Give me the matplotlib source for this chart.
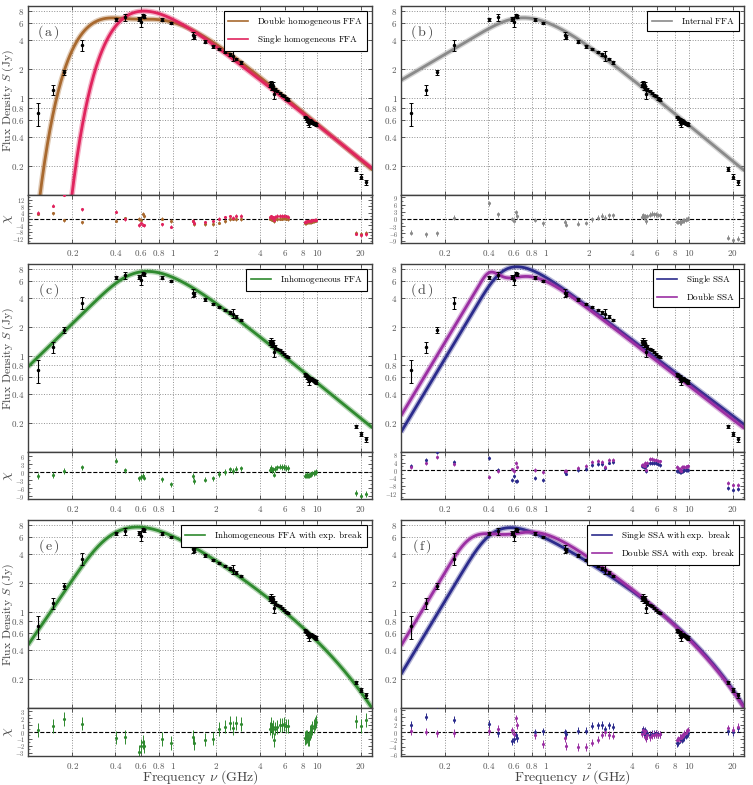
import numpy as np
import matplotlib
matplotlib.use('Agg')
import matplotlib.pyplot as plt
from matplotlib.ticker import FixedLocator, FixedFormatter, NullLocator, AutoMinorLocator

plt.rcParams['mathtext.fontset'] = 'cm'
plt.rcParams['font.family'] = 'serif'
plt.rcParams['font.serif'] = ['DejaVu Serif']

# ---------------- data ----------------
freq = [0.117, 0.148, 0.177, 0.233, 0.403, 0.465, 0.585, 0.600, 0.620, 0.632,
        0.843, 0.964, 1.37, 1.40, 1.68, 1.90, 2.10, 2.30, 2.48, 2.60, 2.75, 2.95,
        4.70, 4.80, 4.85, 4.90, 4.95, 5.00, 5.10, 5.30, 5.50, 5.70, 5.90, 6.10, 6.25,
        8.20, 8.40, 8.55, 8.65, 8.75, 8.90, 9.05, 9.25, 9.45, 9.65, 9.85,
        18.5, 20.0, 21.9]
flux = [0.71, 1.23, 1.85, 3.55, 6.55, 6.90, 6.60, 6.15, 7.25, 7.00,
        6.50, 6.00, 4.50, 4.35, 3.85, 3.45, 3.25, 3.00, 2.85, 2.75, 2.55, 2.35,
        1.38, 1.42, 1.32, 1.28, 1.35, 1.10, 1.24, 1.18, 1.14, 1.09, 1.05, 1.00, 0.97,
        0.64, 0.62, 0.60, 0.57, 0.55, 0.585, 0.575, 0.565, 0.555, 0.545, 0.535,
        0.185, 0.155, 0.136]
err = [0.19, 0.15, 0.12, 0.50, 0.20, 0.55, 0.35, 0.70, 0.20, 0.25,
       0.25, 0.15, 0.40, 0.20, 0.12, 0.10, 0.08, 0.08, 0.10, 0.30, 0.08, 0.07,
       0.08, 0.10, 0.10, 0.05, 0.12, 0.12, 0.05, 0.03, 0.03, 0.03, 0.03, 0.03, 0.03,
       0.02, 0.02, 0.03, 0.04, 0.05, 0.02, 0.02, 0.02, 0.02, 0.02, 0.02,
       0.008, 0.008, 0.008]

xticks = [0.2, 0.4, 0.6, 0.8, 1, 2, 4, 6, 8, 10, 20]
xticklabels = ['0.2', '0.4', '0.6', '0.8', '1', '2', '4', '6', '8', '10', '20']
yticks = [0.2, 0.4, 0.6, 0.8, 1, 2, 4, 6, 8]
yticklabels = ['0.2', '0.4', '0.6', '0.8', '1', '2', '4', '6', '8']

# model parameters (fits shown in each panel)
p_ffa_single = dict(a=8.11, alpha=-1.182, tau=0.2135)
p_ffa_double = dict(a1=3.49, a2=6.1, alpha=-1.245, tau1=0.0721, tau2=0.76)
p_ffa_internal = dict(a=8.7, alpha=-1.22, tau=0.74)
p_ffa_inhom = dict(a=8.7, p=0.276, tau=0.53, alpha=-1.22)
p_ffa_inhom_br = dict(a=7.5, p=0.5, tau=0.26, alpha=-0.94, nubr=18.0)
p_ssa_single = dict(a=13.1, nup=0.575, alpha=-1.13)
p_ssa_double = dict(a1=7.0, nup1=0.44, alpha1=-6.0, a2=10.0, nup2=0.72, alpha2=-1.15)
p_ssa_single_br = dict(a=11.7, nup=0.48, alpha=-0.8, nubr=15.0)
p_ssa_double_br = dict(a1=9.0, nup1=0.34, alpha1=-1.5, a2=7.6, nup2=0.85, alpha2=-0.877, nubr=16.8)

colors = dict(brown='#a8692f', crimson='#e0245e', gray='#8a8a8a', green='#2f8a2f',
              navy='#2b2b8c', purple='#9b2fa3')


# ---------------- models ----------------
def ffa_hom(nu, a, alpha, tau):
    return a * nu ** alpha * np.exp(-tau * nu ** -2.1)


def ffa_double(nu, a1, a2, alpha, tau1, tau2):
    return nu ** alpha * (a1 * np.exp(-tau1 * nu ** -2.1) + a2 * np.exp(-tau2 * nu ** -2.1))


def ffa_internal(nu, a, alpha, tau):
    x = tau * nu ** -2.1
    return a * nu ** alpha * (-np.expm1(-x)) / x


def lower_gamma(s, x):
    x = np.atleast_1d(np.asarray(x, dtype=float))
    grid = np.linspace(0.0, 1.0, 4001)
    t = x[:, None] * grid[None, :]
    integrand = t ** (s - 1) * np.exp(-t)
    return np.trapezoid(integrand, t, axis=1)


def ffa_inhom(nu, a, p, tau, alpha, nubr=None):
    nu = np.atleast_1d(np.asarray(nu, dtype=float))
    s = p + 1
    x = tau * nu ** -2.1
    f = s * lower_gamma(s, x) * x ** -s
    out = a * nu ** alpha * f
    if nubr is not None:
        out = out * np.exp(-nu / nubr)
    return out


def ssa(nu, a, nup, alpha, nubr=None):
    beta = 1 - 2 * alpha
    k = (beta + 4) / 2
    u = nu / nup
    t = u ** -k
    out = a * u ** alpha * (-np.expm1(-t)) / t
    if nubr is not None:
        out = out * np.exp(-nu / nubr)
    return out


def ssa_double(nu, a1, nup1, alpha1, a2, nup2, alpha2, nubr=None):
    out = ssa(nu, a1, nup1, alpha1) + ssa(nu, a2, nup2, alpha2)
    if nubr is not None:
        out = out * np.exp(-nu / nubr)
    return out


models = {
    'a': [(lambda n: ffa_double(n, **p_ffa_double), colors['brown'], r'$\mathrm{Double\ homogeneous\ FFA}$'),
          (lambda n: ffa_hom(n, **p_ffa_single), colors['crimson'], r'$\mathrm{Single\ homogeneous\ FFA}$')],
    'b': [(lambda n: ffa_internal(n, **p_ffa_internal), colors['gray'], r'$\mathrm{Internal\ FFA}$')],
    'c': [(lambda n: ffa_inhom(n, **p_ffa_inhom), colors['green'], r'$\mathrm{Inhomogeneous\ FFA}$')],
    'd': [(lambda n: ssa(n, **p_ssa_single), colors['navy'], r'$\mathrm{Single\ SSA}$'),
          (lambda n: ssa_double(n, **p_ssa_double), colors['purple'], r'$\mathrm{Double\ SSA}$')],
    'e': [(lambda n: ffa_inhom(n, **p_ffa_inhom_br), colors['green'],
           r'$\mathrm{Inhomogeneous\ FFA\ with\ exp.\ break}$')],
    'f': [(lambda n: ssa(n, **p_ssa_single_br), colors['navy'], r'$\mathrm{Single\ SSA\ with\ exp.\ break}$'),
          (lambda n: ssa_double(n, **p_ssa_double_br), colors['purple'],
           r'$\mathrm{Double\ SSA\ with\ exp.\ break}$')],
}

res_setup = {
    'a': ((-15, 15), [-12, -8, -4, 0, 4, 8, 12]),
    'b': ((-10, 10), [-9, -6, -3, 0, 3, 6, 9]),
    'c': ((-10, 7.5), [-9, -6, -3, 0, 3, 6]),
    'd': ((-15, 9.5), [-12, -8, -4, 0, 4, 8]),
    'e': ((-3.5, 3.5), [-3, -2, -1, 0, 1, 2, 3]),
    'f': ((-6.5, 6.5), [-6, -4, -2, 0, 2, 4, 6]),
}

# ---------------- figure ----------------
W, H = 753, 785
fig = plt.figure(figsize=(W / 100, H / 100), dpi=100)

cols = [(28, 372), (401, 744)]
rows = [(6, 195, 243), (264, 452, 499), (520, 708, 756)]
letters = [['a', 'b'], ['c', 'd'], ['e', 'f']]

nu_grid = np.logspace(np.log10(0.099), np.log10(24.0), 500)
fr = np.array(freq)
fl = np.array(flux)
er = np.array(err)

spine_col = '#404040'
text_col = '#444444'


def style(ax):
    for sp in ax.spines.values():
        sp.set_linewidth(1.0)
        sp.set_color(spine_col)
    ax.tick_params(which='both', direction='in', top=True, right=True,
                   labelsize=6.5, colors=spine_col, labelcolor='#555555')
    ax.tick_params(which='major', length=3, width=0.6)
    ax.tick_params(which='minor', length=1.5, width=0.5)


for r, (top, mid, bot) in enumerate(rows):
    for c, (x0, x1) in enumerate(cols):
        L = letters[r][c]
        axm = fig.add_axes([x0 / W, 1 - mid / H, (x1 - x0) / W, (mid - top) / H])
        axr = fig.add_axes([x0 / W, 1 - bot / H, (x1 - x0) / W, (bot - mid) / H], sharex=axm)
        for ax in (axm, axr):
            ax.set_xscale('log')
            ax.set_xlim(0.099, 24.0)
            style(ax)
            ax.xaxis.set_major_locator(FixedLocator(xticks))
            ax.xaxis.set_major_formatter(FixedFormatter(['$' + t + '$' for t in xticklabels]))
            ax.xaxis.set_minor_locator(NullLocator())
            ax.grid(True, axis='x', which='major', ls=':', color='#909090', lw=0.7)
        axm.set_yscale('log')
        axm.set_ylim(0.1, 9.0)
        axm.yaxis.set_major_locator(FixedLocator(yticks))
        axm.yaxis.set_major_formatter(FixedFormatter(['$' + t + '$' for t in yticklabels]))
        axm.yaxis.set_minor_locator(NullLocator())
        axm.grid(True, axis='y', which='major', ls=':', color='#909090', lw=0.7)
        axm.tick_params(axis='x', labelbottom=False)
        axm.tick_params(axis='y', pad=2.5)

        # data
        axm.errorbar(fr, fl, yerr=er, fmt='.', color='black', ms=3, elinewidth=0.8,
                     capsize=1.5, capthick=0.7, zorder=3)
        handles = []
        for fn, col, lab in models[L]:
            yv = fn(nu_grid)
            axm.plot(nu_grid, yv, color=col, lw=4.0, alpha=0.35, zorder=2, solid_capstyle='butt')
            h, = axm.plot(nu_grid, yv, color=col, lw=2.0, zorder=2, label=lab)
            handles.append(h)
            chi = (fl - fn(fr)) / er
            axr.errorbar(fr, chi, yerr=np.ones_like(chi), fmt='.', color=col, ms=2.5,
                         elinewidth=0.7, capsize=0, zorder=3)
        leg = axm.legend(handles=[plt.Line2D([], [], color=h.get_color(), lw=1.2) for h in handles],
                         labels=[h.get_label() for h in handles],
                         loc='upper right', fontsize=6.5, frameon=True, fancybox=False,
                         framealpha=1.0, edgecolor='black', handlelength=2.2,
                         borderpad=0.5, labelspacing=0.6, handletextpad=1.0)
        leg.get_frame().set_linewidth(0.8)
        axm.text(0.06, 0.86, r'$(\,\mathrm{' + L + r'}\,)$', transform=axm.transAxes,
                 fontsize=10, color=text_col, ha='center', va='center')

        ylim, yt = res_setup[L]
        axr.set_ylim(*ylim)
        axr.yaxis.set_major_locator(FixedLocator(yt))
        axr.yaxis.set_major_formatter(FixedFormatter(['$' + str(v) + '$' for v in yt]))
        axr.yaxis.set_minor_locator(AutoMinorLocator(2))
        axr.axhline(0, color='black', ls='--', lw=0.8, zorder=1)
        axr.tick_params(axis='y', labelsize=4.5, pad=2)

        if c == 0:
            axm.set_ylabel(r'$\mathrm{Flux\ Density}\ S\ (\mathrm{Jy})$', fontsize=8.5, color=text_col,
                           va='center')
            axr.set_ylabel(r'$\chi$', fontsize=10, color=text_col, va='center')
            axm.yaxis.set_label_coords(-0.057, 0.5)
            axr.yaxis.set_label_coords(-0.057, 0.5)
        if r == 2:
            axr.set_xlabel(r'$\mathrm{Frequency}\ \nu\ (\mathrm{GHz})$', fontsize=10, color=text_col,
                           va='center')
            axr.xaxis.set_label_coords(0.5, -0.445)

fig.savefig('out.png', dpi=100)
